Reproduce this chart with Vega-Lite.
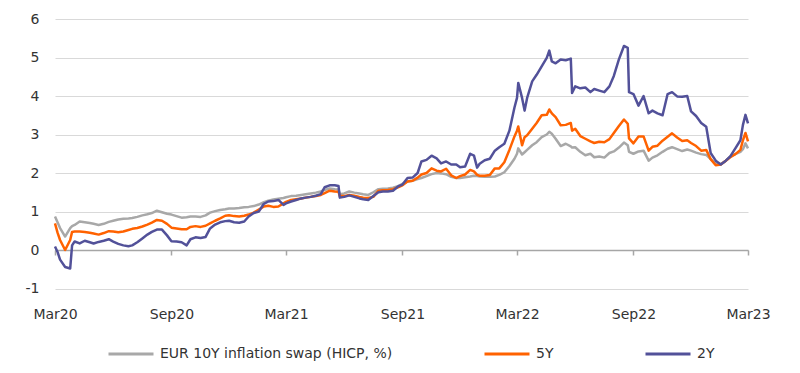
{
  "$schema": "https://vega.github.io/schema/vega-lite/v6.json",
  "autosize": {"type": "none"},
  "padding": {"left": 55, "top": 19, "right": 52, "bottom": 84.5},
  "width": 693,
  "height": 269.5,
  "background": "white",
  "config": {"view": {"stroke": null}, "font": "DejaVu Sans"},
  "data": {
    "format": {"parse": {"d": "utc:'%Y-%m-%d'"}},
    "values": [
      {"d":"2020-03-01","10Y":0.87,"5Y":0.69,"2Y":0.09},
      {"d":"2020-03-05","10Y":0.72,"5Y":0.45,"2Y":-0.05},
      {"d":"2020-03-09","10Y":0.57,"5Y":0.26,"2Y":-0.25},
      {"d":"2020-03-17","10Y":0.35,"5Y":0.0,"2Y":-0.44},
      {"d":"2020-03-25","10Y":0.57,"5Y":0.26,"2Y":-0.48},
      {"d":"2020-03-28","10Y":0.62,"5Y":0.47,"2Y":0.12},
      {"d":"2020-04-01","10Y":0.65,"5Y":0.48,"2Y":0.22},
      {"d":"2020-04-09","10Y":0.74,"5Y":0.48,"2Y":0.17},
      {"d":"2020-04-17","10Y":0.72,"5Y":0.47,"2Y":0.24},
      {"d":"2020-04-25","10Y":0.70,"5Y":0.45,"2Y":0.20},
      {"d":"2020-05-01","10Y":0.68,"5Y":0.43,"2Y":0.17},
      {"d":"2020-05-09","10Y":0.65,"5Y":0.40,"2Y":0.21},
      {"d":"2020-05-17","10Y":0.68,"5Y":0.44,"2Y":0.24},
      {"d":"2020-05-25","10Y":0.73,"5Y":0.49,"2Y":0.28},
      {"d":"2020-06-01","10Y":0.76,"5Y":0.48,"2Y":0.22},
      {"d":"2020-06-09","10Y":0.79,"5Y":0.46,"2Y":0.16},
      {"d":"2020-06-17","10Y":0.81,"5Y":0.48,"2Y":0.12},
      {"d":"2020-06-25","10Y":0.82,"5Y":0.52,"2Y":0.10},
      {"d":"2020-07-01","10Y":0.83,"5Y":0.55,"2Y":0.12},
      {"d":"2020-07-09","10Y":0.86,"5Y":0.57,"2Y":0.20},
      {"d":"2020-07-17","10Y":0.90,"5Y":0.61,"2Y":0.30},
      {"d":"2020-07-25","10Y":0.93,"5Y":0.66,"2Y":0.40},
      {"d":"2020-08-01","10Y":0.96,"5Y":0.71,"2Y":0.47},
      {"d":"2020-08-09","10Y":1.02,"5Y":0.78,"2Y":0.53},
      {"d":"2020-08-17","10Y":0.98,"5Y":0.76,"2Y":0.53},
      {"d":"2020-08-25","10Y":0.94,"5Y":0.68,"2Y":0.38},
      {"d":"2020-09-01","10Y":0.92,"5Y":0.58,"2Y":0.23},
      {"d":"2020-09-09","10Y":0.88,"5Y":0.56,"2Y":0.22},
      {"d":"2020-09-17","10Y":0.84,"5Y":0.54,"2Y":0.20},
      {"d":"2020-09-25","10Y":0.85,"5Y":0.54,"2Y":0.12},
      {"d":"2020-10-01","10Y":0.87,"5Y":0.60,"2Y":0.28},
      {"d":"2020-10-09","10Y":0.87,"5Y":0.62,"2Y":0.33},
      {"d":"2020-10-17","10Y":0.86,"5Y":0.60,"2Y":0.31},
      {"d":"2020-10-25","10Y":0.90,"5Y":0.63,"2Y":0.34},
      {"d":"2020-11-01","10Y":0.97,"5Y":0.69,"2Y":0.56},
      {"d":"2020-11-09","10Y":1.01,"5Y":0.76,"2Y":0.66},
      {"d":"2020-11-17","10Y":1.04,"5Y":0.82,"2Y":0.72},
      {"d":"2020-11-25","10Y":1.06,"5Y":0.89,"2Y":0.75},
      {"d":"2020-12-01","10Y":1.08,"5Y":0.90,"2Y":0.76},
      {"d":"2020-12-09","10Y":1.08,"5Y":0.88,"2Y":0.72},
      {"d":"2020-12-17","10Y":1.09,"5Y":0.87,"2Y":0.71},
      {"d":"2020-12-25","10Y":1.11,"5Y":0.89,"2Y":0.74},
      {"d":"2021-01-01","10Y":1.12,"5Y":0.92,"2Y":0.87},
      {"d":"2021-01-09","10Y":1.14,"5Y":0.97,"2Y":0.96},
      {"d":"2021-01-17","10Y":1.18,"5Y":1.05,"2Y":1.00},
      {"d":"2021-01-25","10Y":1.24,"5Y":1.13,"2Y":1.20},
      {"d":"2021-02-01","10Y":1.28,"5Y":1.15,"2Y":1.26},
      {"d":"2021-02-09","10Y":1.31,"5Y":1.12,"2Y":1.27},
      {"d":"2021-02-17","10Y":1.33,"5Y":1.13,"2Y":1.30},
      {"d":"2021-02-25","10Y":1.35,"5Y":1.21,"2Y":1.17},
      {"d":"2021-03-01","10Y":1.37,"5Y":1.25,"2Y":1.21},
      {"d":"2021-03-09","10Y":1.40,"5Y":1.30,"2Y":1.26},
      {"d":"2021-03-17","10Y":1.41,"5Y":1.32,"2Y":1.30},
      {"d":"2021-03-25","10Y":1.43,"5Y":1.34,"2Y":1.34},
      {"d":"2021-04-01","10Y":1.45,"5Y":1.36,"2Y":1.36},
      {"d":"2021-04-09","10Y":1.47,"5Y":1.38,"2Y":1.38},
      {"d":"2021-04-17","10Y":1.49,"5Y":1.40,"2Y":1.41},
      {"d":"2021-04-25","10Y":1.52,"5Y":1.43,"2Y":1.45},
      {"d":"2021-05-01","10Y":1.56,"5Y":1.48,"2Y":1.63},
      {"d":"2021-05-09","10Y":1.60,"5Y":1.54,"2Y":1.68},
      {"d":"2021-05-17","10Y":1.58,"5Y":1.52,"2Y":1.68},
      {"d":"2021-05-23","10Y":1.57,"5Y":1.51,"2Y":1.66},
      {"d":"2021-05-25","10Y":1.45,"5Y":1.40,"2Y":1.36},
      {"d":"2021-06-01","10Y":1.47,"5Y":1.40,"2Y":1.38},
      {"d":"2021-06-09","10Y":1.52,"5Y":1.43,"2Y":1.42},
      {"d":"2021-06-17","10Y":1.49,"5Y":1.41,"2Y":1.38},
      {"d":"2021-06-25","10Y":1.47,"5Y":1.38,"2Y":1.34},
      {"d":"2021-07-01","10Y":1.45,"5Y":1.36,"2Y":1.32},
      {"d":"2021-07-09","10Y":1.43,"5Y":1.35,"2Y":1.30},
      {"d":"2021-07-17","10Y":1.50,"5Y":1.38,"2Y":1.40},
      {"d":"2021-07-25","10Y":1.58,"5Y":1.54,"2Y":1.50},
      {"d":"2021-08-01","10Y":1.59,"5Y":1.55,"2Y":1.52},
      {"d":"2021-08-09","10Y":1.60,"5Y":1.56,"2Y":1.52},
      {"d":"2021-08-17","10Y":1.62,"5Y":1.58,"2Y":1.54},
      {"d":"2021-08-25","10Y":1.66,"5Y":1.63,"2Y":1.65},
      {"d":"2021-09-01","10Y":1.72,"5Y":1.68,"2Y":1.70},
      {"d":"2021-09-09","10Y":1.78,"5Y":1.78,"2Y":1.87},
      {"d":"2021-09-17","10Y":1.80,"5Y":1.80,"2Y":1.88},
      {"d":"2021-09-25","10Y":1.84,"5Y":1.88,"2Y":2.00},
      {"d":"2021-10-01","10Y":1.87,"5Y":1.96,"2Y":2.30},
      {"d":"2021-10-09","10Y":1.92,"5Y":2.00,"2Y":2.34},
      {"d":"2021-10-17","10Y":1.97,"5Y":2.12,"2Y":2.45},
      {"d":"2021-10-25","10Y":2.00,"5Y":2.06,"2Y":2.38},
      {"d":"2021-11-01","10Y":1.99,"5Y":2.04,"2Y":2.25},
      {"d":"2021-11-09","10Y":1.97,"5Y":2.11,"2Y":2.30},
      {"d":"2021-11-17","10Y":1.90,"5Y":1.94,"2Y":2.22},
      {"d":"2021-11-25","10Y":1.87,"5Y":1.87,"2Y":2.22},
      {"d":"2021-12-01","10Y":1.87,"5Y":1.92,"2Y":2.15},
      {"d":"2021-12-09","10Y":1.89,"5Y":1.96,"2Y":2.17},
      {"d":"2021-12-17","10Y":1.91,"5Y":2.08,"2Y":2.50},
      {"d":"2021-12-23","10Y":1.93,"5Y":2.04,"2Y":2.45},
      {"d":"2021-12-28","10Y":1.92,"5Y":1.95,"2Y":2.14},
      {"d":"2022-01-01","10Y":1.91,"5Y":1.93,"2Y":2.24},
      {"d":"2022-01-09","10Y":1.90,"5Y":1.93,"2Y":2.33},
      {"d":"2022-01-17","10Y":1.90,"5Y":1.95,"2Y":2.37},
      {"d":"2022-01-25","10Y":1.91,"5Y":2.12,"2Y":2.58},
      {"d":"2022-02-01","10Y":1.95,"5Y":2.12,"2Y":2.67},
      {"d":"2022-02-09","10Y":2.02,"5Y":2.28,"2Y":2.76},
      {"d":"2022-02-17","10Y":2.18,"5Y":2.60,"2Y":3.10},
      {"d":"2022-02-25","10Y":2.37,"5Y":2.95,"2Y":3.70},
      {"d":"2022-03-01","10Y":2.50,"5Y":3.10,"2Y":3.95},
      {"d":"2022-03-03","10Y":2.64,"5Y":3.21,"2Y":4.34},
      {"d":"2022-03-09","10Y":2.48,"5Y":2.72,"2Y":3.95},
      {"d":"2022-03-13","10Y":2.54,"5Y":2.93,"2Y":3.62},
      {"d":"2022-03-17","10Y":2.60,"5Y":2.98,"2Y":3.95},
      {"d":"2022-03-25","10Y":2.72,"5Y":3.15,"2Y":4.38},
      {"d":"2022-04-01","10Y":2.80,"5Y":3.30,"2Y":4.55},
      {"d":"2022-04-09","10Y":2.93,"5Y":3.50,"2Y":4.77},
      {"d":"2022-04-17","10Y":3.00,"5Y":3.51,"2Y":4.99},
      {"d":"2022-04-21","10Y":3.07,"5Y":3.65,"2Y":5.18},
      {"d":"2022-04-25","10Y":3.02,"5Y":3.55,"2Y":4.90},
      {"d":"2022-05-01","10Y":2.89,"5Y":3.45,"2Y":4.85},
      {"d":"2022-05-09","10Y":2.70,"5Y":3.24,"2Y":4.95},
      {"d":"2022-05-17","10Y":2.76,"5Y":3.25,"2Y":4.93},
      {"d":"2022-05-25","10Y":2.69,"5Y":3.30,"2Y":4.97},
      {"d":"2022-05-27","10Y":2.66,"5Y":3.10,"2Y":4.08},
      {"d":"2022-06-01","10Y":2.67,"5Y":3.15,"2Y":4.25},
      {"d":"2022-06-09","10Y":2.55,"5Y":2.96,"2Y":4.20},
      {"d":"2022-06-17","10Y":2.46,"5Y":2.89,"2Y":4.22},
      {"d":"2022-06-25","10Y":2.50,"5Y":2.82,"2Y":4.10},
      {"d":"2022-07-01","10Y":2.41,"5Y":2.78,"2Y":4.18},
      {"d":"2022-07-09","10Y":2.43,"5Y":2.81,"2Y":4.14},
      {"d":"2022-07-17","10Y":2.40,"5Y":2.80,"2Y":4.10},
      {"d":"2022-07-25","10Y":2.52,"5Y":2.88,"2Y":4.25},
      {"d":"2022-08-01","10Y":2.56,"5Y":3.04,"2Y":4.52},
      {"d":"2022-08-09","10Y":2.66,"5Y":3.22,"2Y":4.95},
      {"d":"2022-08-17","10Y":2.79,"5Y":3.39,"2Y":5.30},
      {"d":"2022-08-23","10Y":2.72,"5Y":3.28,"2Y":5.25},
      {"d":"2022-08-25","10Y":2.55,"5Y":2.90,"2Y":4.10},
      {"d":"2022-09-01","10Y":2.50,"5Y":2.77,"2Y":4.05},
      {"d":"2022-09-09","10Y":2.56,"5Y":2.95,"2Y":3.75},
      {"d":"2022-09-17","10Y":2.58,"5Y":2.95,"2Y":4.00},
      {"d":"2022-09-25","10Y":2.32,"5Y":2.58,"2Y":3.55},
      {"d":"2022-10-01","10Y":2.40,"5Y":2.68,"2Y":3.62},
      {"d":"2022-10-09","10Y":2.46,"5Y":2.71,"2Y":3.55},
      {"d":"2022-10-17","10Y":2.55,"5Y":2.84,"2Y":3.50},
      {"d":"2022-10-25","10Y":2.63,"5Y":2.94,"2Y":4.05},
      {"d":"2022-11-01","10Y":2.67,"5Y":3.03,"2Y":4.10},
      {"d":"2022-11-09","10Y":2.62,"5Y":2.92,"2Y":3.99},
      {"d":"2022-11-17","10Y":2.57,"5Y":2.83,"2Y":3.98},
      {"d":"2022-11-25","10Y":2.61,"5Y":2.85,"2Y":4.00},
      {"d":"2022-12-01","10Y":2.58,"5Y":2.78,"2Y":3.60},
      {"d":"2022-12-09","10Y":2.53,"5Y":2.70,"2Y":3.48},
      {"d":"2022-12-17","10Y":2.49,"5Y":2.58,"2Y":3.30},
      {"d":"2022-12-25","10Y":2.47,"5Y":2.60,"2Y":3.20},
      {"d":"2023-01-01","10Y":2.36,"5Y":2.36,"2Y":2.52},
      {"d":"2023-01-09","10Y":2.25,"5Y":2.20,"2Y":2.32},
      {"d":"2023-01-17","10Y":2.23,"5Y":2.22,"2Y":2.22},
      {"d":"2023-01-25","10Y":2.32,"5Y":2.32,"2Y":2.32},
      {"d":"2023-02-01","10Y":2.43,"5Y":2.41,"2Y":2.43},
      {"d":"2023-02-09","10Y":2.49,"5Y":2.49,"2Y":2.64},
      {"d":"2023-02-17","10Y":2.55,"5Y":2.60,"2Y":2.85},
      {"d":"2023-02-21","10Y":2.62,"5Y":2.85,"2Y":3.25},
      {"d":"2023-02-25","10Y":2.77,"5Y":3.04,"2Y":3.51},
      {"d":"2023-03-01","10Y":2.64,"5Y":2.82,"2Y":3.29}
    ]
  },
  "transform": [{"fold": ["10Y", "5Y", "2Y"], "as": ["series", "value"]}],
  "mark": {"type": "line", "strokeWidth": 2.5, "strokeJoin": "round"},
  "encoding": {
    "x": {
      "field": "d",
      "type": "temporal",
      "scale": {"type": "utc", "domain": [{"year": 2020, "month": 3, "date": 1, "utc": true}, {"year": 2023, "month": 3, "date": 1, "utc": true}]},
      "axis": {
        "title": null,
        "values": [
          {"year": 2020, "month": 3, "date": 1, "utc": true},
          {"year": 2020, "month": 9, "date": 1, "utc": true},
          {"year": 2021, "month": 3, "date": 1, "utc": true},
          {"year": 2021, "month": 9, "date": 1, "utc": true},
          {"year": 2022, "month": 3, "date": 1, "utc": true},
          {"year": 2022, "month": 9, "date": 1, "utc": true},
          {"year": 2023, "month": 3, "date": 1, "utc": true}
        ],
        "labelExpr": "utcFormat(datum.value, '%b%y')",
        "offset": -38.5,
        "domainColor": "#a6a6a6",
        "domainWidth": 1.5,
        "tickColor": "#a6a6a6",
        "tickWidth": 1.5,
        "tickSize": 5,
        "labelPadding": 52,
        "labelFontSize": 14,
        "labelColor": "#333333",
        "labelFont": "DejaVu Sans",
        "labelFlush": false,
        "labelOverlap": false,
        "grid": false
      }
    },
    "y": {
      "field": "value",
      "type": "quantitative",
      "scale": {"domain": [-1, 6], "nice": false, "zero": false},
      "axis": {
        "title": null,
        "values": [-1, 0, 1, 2, 3, 4, 5, 6],
        "labelExpr": "toString(datum.value)",
        "domain": false,
        "ticks": false,
        "labelPadding": 16,
        "labelFontSize": 14,
        "labelColor": "#333333",
        "labelFont": "DejaVu Sans",
        "gridColor": "#d9d9d9",
        "gridWidth": 1
      }
    },
    "color": {
      "field": "series",
      "type": "nominal",
      "scale": {"domain": ["10Y", "5Y", "2Y"], "range": ["#a8a8a8", "#ff6200", "#525199"]},
      "legend": {
        "title": null,
        "orient": "none",
        "legendX": 52,
        "legendY": 311,
        "direction": "horizontal",
        "symbolType": "stroke",
        "symbolSize": 2025,
        "symbolStrokeWidth": 3,
        "labelFontSize": 14,
        "labelFont": "DejaVu Sans",
        "labelColor": "#333333",
        "labelOffset": 5,
        "columnPadding": 85,
        "labelLimit": 400,
        "labelExpr": "datum.label == '10Y' ? 'EUR 10Y inflation swap (HICP, %)' : datum.label"
      }
    }
  }
}
